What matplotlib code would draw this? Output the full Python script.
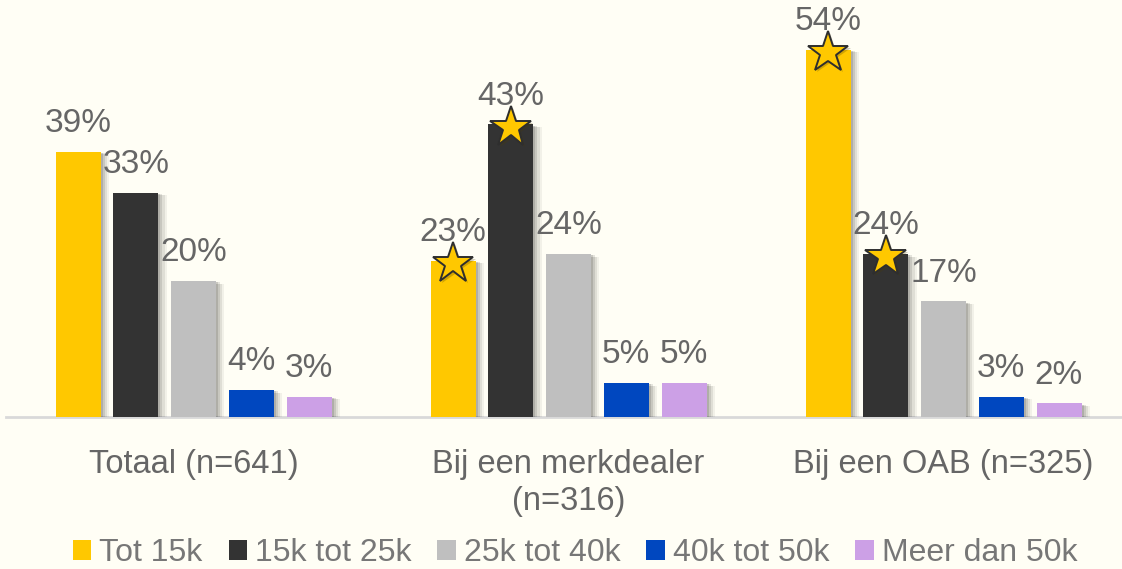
import matplotlib
matplotlib.use("Agg")
import matplotlib.pyplot as plt
import matplotlib.patheffects as pe
import numpy as np

categories = ["Totaal (n=641)", "Bij een merkdealer\n(n=316)", "Bij een OAB (n=325)"]
series_names = ["Tot 15k", "15k tot 25k", "25k tot 40k", "40k tot 50k", "Meer dan 50k"]
values = {
    "Tot 15k":      [39, 23, 54],
    "15k tot 25k":  [33, 43, 24],
    "25k tot 40k":  [20, 24, 17],
    "40k tot 50k":  [4, 5, 3],
    "Meer dan 50k": [3, 5, 2],
}
# stars: (series, category index)
stars = [("Tot 15k", 1), ("15k tot 25k", 1), ("Tot 15k", 2), ("15k tot 25k", 2)]

colors = ["#FFC800", "#333333", "#BFBFBF", "#0047BF", "#CCA0E6"]
bg = "#FFFEF5"
txt = "#666666"
font = "Liberation Sans"

fig = plt.figure(figsize=(11.22, 5.69), dpi=100, facecolor=bg)
ax = fig.add_axes([6 / 1122, 1 - 417 / 569, 1125 / 1122, 417 / 569])
ax.set_facecolor(bg)

x = np.arange(len(categories))
step = 0.154
width = 0.12
shadow = [
    pe.SimplePatchShadow(offset=(6, -2), shadow_rgbFace="#000000", alpha=0.05),
    pe.SimplePatchShadow(offset=(4.5, -2), shadow_rgbFace="#000000", alpha=0.08),
    pe.SimplePatchShadow(offset=(3, -1), shadow_rgbFace="#000000", alpha=0.10),
    pe.SimplePatchShadow(offset=(1.5, -1), shadow_rgbFace="#000000", alpha=0.12),
    pe.Normal(),
]

for i, name in enumerate(series_names):
    xs = x + (i - 2) * step
    vals = values[name]
    bars = ax.bar(xs, vals, width, color=colors[i], label=name, zorder=3)
    for b in bars:
        b.set_path_effects(shadow)
    for xi, v in zip(xs, vals):
        ax.annotate(f"{v}%", (xi, v), xytext=(0, 9), textcoords="offset points",
                    ha="center", va="bottom", fontsize=24, color=txt, family=font, zorder=5)

for name, ci in stars:
    i = series_names.index(name)
    xi = x[ci] + (i - 2) * step
    v = values[name][ci]
    ax.plot([xi], [v - 0.4], marker="*", markersize=31, markerfacecolor="#FFC800",
            markeredgecolor="#2E2E2E", markeredgewidth=1.4, zorder=6, linestyle="none",
            path_effects=[pe.SimplePatchShadow(offset=(1.5, -1.5), alpha=0.25), pe.Normal()])

ax.set_xlim(-0.5, 2.5)
ax.set_ylim(0, 61.3)
for s in ["top", "right", "left"]:
    ax.spines[s].set_visible(False)
ax.spines["bottom"].set_color("#D9D9D9")
ax.spines["bottom"].set_linewidth(2)
ax.set_yticks([])
ax.set_xticks(x)
ax.set_xticklabels(categories, fontsize=23.5, color=txt, family=font, linespacing=1.25)
ax.tick_params(axis="x", length=0, pad=23)

leg = fig.legend(loc="center", bbox_to_anchor=(575 / 1122, 1 - 553 / 569), ncol=5, frameon=False,
                 prop={"family": font, "size": 23}, handlelength=0.57, handleheight=0.57,
                 handletextpad=0.25, columnspacing=0.82, labelcolor="#777777")
for h in leg.legend_handles:
    h.set_path_effects([])

fig.savefig("out.png", dpi=100, facecolor=bg)
